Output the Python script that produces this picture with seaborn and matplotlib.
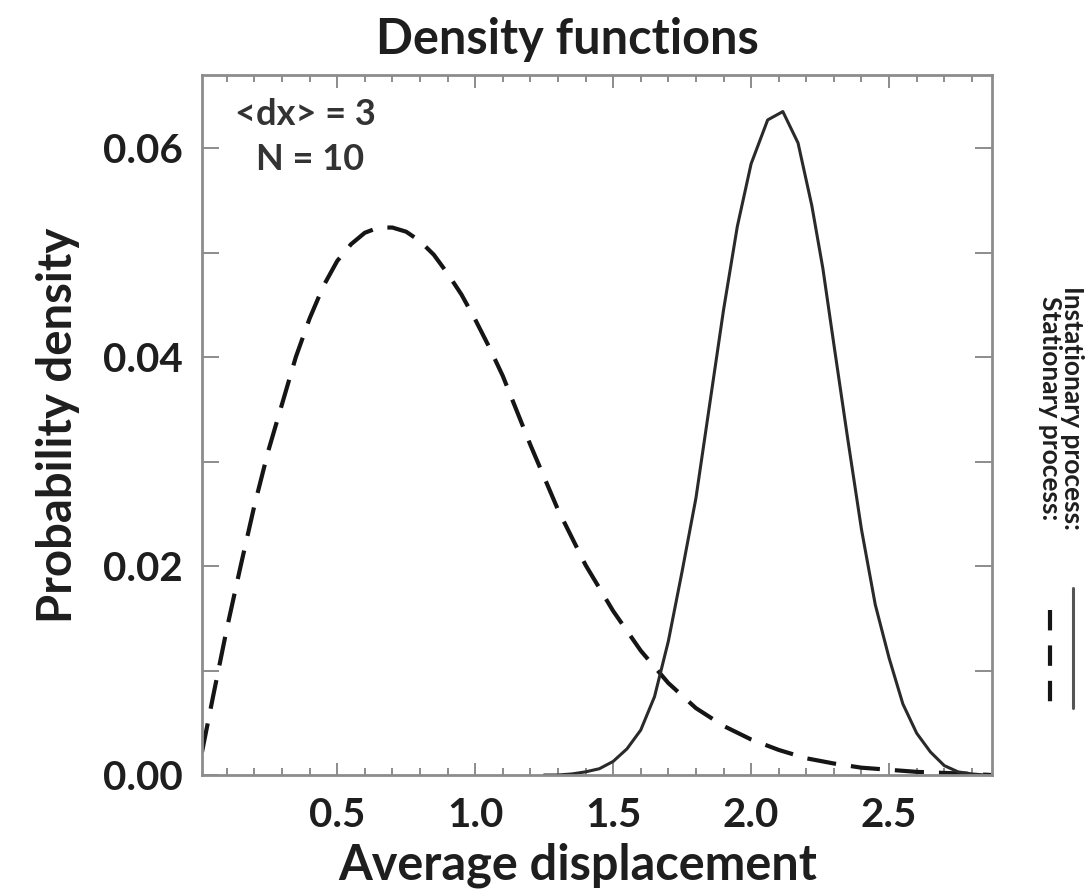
import numpy as np
import pandas as pd
import seaborn as sns
import matplotlib
matplotlib.use("Agg")
import matplotlib.pyplot as plt
from matplotlib.lines import Line2D
from matplotlib.ticker import MultipleLocator, FixedLocator

# Stationary process (dashed)
stat_x = [0.01, 0.05, 0.10, 0.15, 0.20, 0.25, 0.30, 0.35, 0.40, 0.45, 0.50,
          0.55, 0.60, 0.65, 0.70, 0.75, 0.80, 0.85, 0.90, 0.95, 1.00, 1.05,
          1.10, 1.20, 1.30, 1.40, 1.50, 1.60, 1.70, 1.80, 1.90, 2.00, 2.10,
          2.20, 2.30, 2.40, 2.50, 2.60, 2.70, 2.80, 2.87]
stat_y = [0.0022, 0.0075, 0.0140, 0.0200, 0.0258, 0.0310, 0.0355, 0.0400,
          0.0437, 0.0468, 0.0492, 0.0508, 0.0519, 0.0524, 0.0524, 0.0520,
          0.0511, 0.0498, 0.0480, 0.0460, 0.0436, 0.0410, 0.0382, 0.0316,
          0.0254, 0.0201, 0.0157, 0.0119, 0.0088, 0.0064, 0.0047, 0.0034,
          0.0024, 0.0016, 0.0011, 0.0007, 0.0005, 0.0003, 0.0002, 0.0001,
          0.0000]

# Instationary process (solid)
inst_x = [1.25, 1.30, 1.35, 1.40, 1.45, 1.50, 1.55, 1.60, 1.65, 1.70, 1.75,
          1.80, 1.85, 1.90, 1.95, 2.00, 2.06, 2.115, 2.17, 2.22, 2.26, 2.30,
          2.35, 2.40, 2.45, 2.50, 2.55, 2.60, 2.65, 2.70, 2.75, 2.80, 2.85]
inst_y = [0.0000, 0.0000, 0.0001, 0.0003, 0.0006, 0.0013, 0.0025, 0.0043,
          0.0075, 0.0128, 0.0195, 0.0265, 0.0355, 0.0445, 0.0525, 0.0585,
          0.0627, 0.0635, 0.0605, 0.0545, 0.0485, 0.0412, 0.0322, 0.0235,
          0.0163, 0.0112, 0.0068, 0.0040, 0.0022, 0.0009, 0.0003, 0.0001,
          0.0000]

x_ticks = [0.5, 1.0, 1.5, 2.0, 2.5]
x_tick_labels = ["0.5", "1.0", "1.5", "2.0", "2.5"]
y_ticks = [0.00, 0.02, 0.04, 0.06]
y_tick_labels = ["0.00", "0.02", "0.04", "0.06"]
legend_labels = ["Instationary process:", "Stationary process:"]

sns.set_style("ticks")
plt.rcParams["font.family"] = ["Lato", "DejaVu Sans"]
plt.rcParams["font.weight"] = "bold"

TEXT = "#1e1e1e"
LINE = "#2a2a2a"
AXC = "#8c8c8c"
DASH = (0, (7.0, 3.6))

fig = plt.figure(figsize=(10.88, 8.91), dpi=100)
ax = fig.add_axes([202 / 1088, 116 / 891, 790 / 1088, 700 / 891])

df_stat = pd.DataFrame({"x": stat_x, "y": stat_y})
df_inst = pd.DataFrame({"x": inst_x, "y": inst_y})

sns.lineplot(data=df_stat, x="x", y="y", ax=ax, color="#151515",
             linewidth=3.0, linestyle=DASH, estimator=None)
sns.lineplot(data=df_inst, x="x", y="y", ax=ax, color=LINE,
             linewidth=2.2, estimator=None)

ax.set_xlim(0.01, 2.873)
ax.set_ylim(0.0, 0.067)

ax.xaxis.set_major_locator(FixedLocator(x_ticks))
ax.set_xticklabels(x_tick_labels)
ax.xaxis.set_minor_locator(MultipleLocator(0.1))
ax.yaxis.set_major_locator(FixedLocator(y_ticks))
ax.set_yticklabels(y_tick_labels)
ax.yaxis.set_minor_locator(MultipleLocator(0.01))

ax.tick_params(axis="both", which="both", direction="in", top=True,
               right=True, color=AXC, width=1.4)
ax.tick_params(axis="x", which="major", length=9, pad=16,
               labelsize=29, labelcolor=TEXT)
ax.tick_params(axis="x", which="minor", length=5)
ax.tick_params(axis="y", which="both", length=12)
ax.tick_params(axis="y", which="major", pad=14, labelsize=29,
               labelcolor=TEXT)
for lab in ax.get_xticklabels() + ax.get_yticklabels():
    lab.set_fontweight("bold")

for side in ["left", "right", "top", "bottom"]:
    ax.spines[side].set_color(AXC)
    ax.spines[side].set_linewidth(2.0)

ax.set_xlabel("Average displacement", fontsize=35, fontweight="bold",
              color=TEXT)
ax.set_ylabel("Probability density", fontsize=34, fontweight="bold",
              color=TEXT)
ax.xaxis.set_label_coords(0.5 + (578 - 597) / 790, -(842 - 775) / 700)
ax.yaxis.set_label_coords(-(202 - 80) / 790, 0.5)

fig.text(567 / 1088, 1 - 40 / 891, "Density functions", ha="center",
         va="center", fontsize=35, fontweight="bold", color=TEXT)

ax.text(0.042, 0.943, "<dx> = 3", transform=ax.transAxes, ha="left",
        va="center", fontsize=26, fontweight="bold", color="#333333")
ax.text(0.068, 0.880, "N = 10", transform=ax.transAxes, ha="left",
        va="center", fontsize=26, fontweight="bold", color="#333333")

# rotated two-line legend on the right edge; first line is the rightmost
fig.text(1061 / 1088, 1 - 286 / 891, "\n".join(legend_labels),
         rotation=270, ha="center", va="top", multialignment="center",
         linespacing=0.95, fontsize=19, fontweight="bold", color=TEXT)
fig.add_artist(Line2D([1073 / 1088, 1073 / 1088],
                      [1 - 588 / 891, 1 - 708 / 891],
                      transform=fig.transFigure, color="#555555",
                      linewidth=2.2))
fig.add_artist(Line2D([1050 / 1088, 1050 / 1088],
                      [1 - 610 / 891, 1 - 702 / 891],
                      transform=fig.transFigure, color="#151515",
                      linewidth=3.0, linestyle=(0, (4.9, 3.6))))

fig.savefig("out.png", dpi=100)
